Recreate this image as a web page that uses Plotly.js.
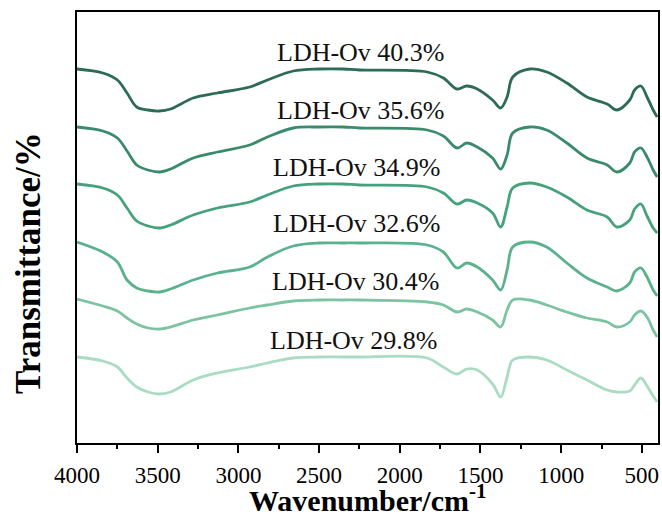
<!DOCTYPE html>
<html>
<head>
<meta charset="utf-8">
<script src="https://cdn.plot.ly/plotly-3.0.1.min.js"></script>
<style>
html,body{margin:0;padding:0;background:#fff;}
#chart{width:662px;height:516px;}
</style>
</head>
<body>
<div id="chart"></div>
<script>
// Wavenumber grid (cm-1)
var wavenumber = [4000, 3840, 3750, 3690, 3630, 3560, 3490, 3420, 3280, 3130, 2930, 2820, 2660, 2500, 2350, 2250, 1830, 1730, 1645, 1585, 1520, 1425, 1375, 1335, 1300, 1195, 1090, 965, 840, 715, 655, 575, 545, 506, 468, 430, 405];

// Transmittance (arbitrary stacked units)
var ov403 = [374,370,363,350,336,333,332,334,345,350,356,363,372,374,374,373,371,365,354,357,354,343,335,346,366,374,371,360,346,339,333,343,353,357,346,333,326];
var ov356 = [316,312,305,292,278,273,271,274,285,291,298,306,315,316,316,315,313,307,295,300,296,285,274,288,310,316,313,300,285,278,271,280,291,295,286,273,266];
var ov349 = [259,255,248,235,222,217,215,218,228,235,241,248,257,259,259,258,256,250,239,243,240,230,216,236,255,260,256,246,233,226,216,223,234,239,227,215,210];
var ov326 = [201,191,181,163,155,152,151,154,163,170,176,186,197,200,200,200,198,191,175,180,176,163,153,173,196,201,196,180,165,156,152,160,171,175,166,153,147];
var ov304 = [144,137,132,125,119,115,114,116,123,128,135,138,142,143,143,143,141,138,131,134,131,123,116,133,143,143,138,131,125,121,116,121,128,132,126,113,106];
var ov298 = [86,82,76,65,56,51,49,51,63,70,76,80,85,86,86,86,85,76,69,74,73,59,46,66,83,86,83,73,63,53,51,52,58,65,57,47,41];

var seriesNames = ["LDH-Ov 40.3%", "LDH-Ov 35.6%", "LDH-Ov 34.9%", "LDH-Ov 32.6%", "LDH-Ov 30.4%", "LDH-Ov 29.8%"];
var seriesValues = [ov403, ov356, ov349, ov326, ov304, ov298];
var colors = ["#2c6b54", "#3a8b6b", "#45a27b", "#5ab28c", "#7cc4a1", "#a9dcc1"];

var xTickVals = [4000, 3500, 3000, 2500, 2000, 1500, 1000, 500];
var xTickText = ["4000", "3500", "3000", "2500", "2000", "1500", "1000", "500"];

// label positions (wavenumber, transmittance units)
var labelX = [2240, 2240, 2265, 2265, 2271, 2284];
var labelY = [391, 333, 276, 220, 162, 103];

var SERIF = "Liberation Serif, Times New Roman, serif";

var traces = seriesValues.map(function (vals, i) {
  return {
    x: wavenumber,
    y: vals,
    type: 'scatter',
    mode: 'lines',
    name: seriesNames[i],
    line: {color: colors[i], width: 2.8, shape: 'spline', smoothing: 1},
    hoverinfo: 'skip'
  };
});

var annotations = seriesNames.map(function (n, i) {
  return {
    x: labelX[i], y: labelY[i], xref: 'x', yref: 'y',
    text: n, showarrow: false, xanchor: 'center', yanchor: 'middle',
    font: {family: SERIF, size: 26, color: '#111'}
  };
});

var plotH = 516 - 12 - 73, plotW = 662 - 77 - 4;
annotations.push({
  x: (28 - 77) / plotW, y: (516 - 73 - 263) / plotH, xref: 'paper', yref: 'paper',
  text: 'Transmittance/%',
  showarrow: false, textangle: -90, xanchor: 'center', yanchor: 'middle',
  font: {family: SERIF, size: 35, color: '#000', weight: 'bold'}
});
annotations.push({
  x: (367 - 77) / plotW, y: (516 - 73 - 498) / plotH, xref: 'paper', yref: 'paper',
  text: 'Wavenumber/cm<sup>-1</sup>',
  showarrow: false, xanchor: 'center', yanchor: 'middle',
  font: {family: SERIF, size: 30, color: '#000', weight: 'bold'}
});

var layout = {
  width: 662, height: 516,
  margin: {l: 77, r: 4, t: 12, b: 73},
  paper_bgcolor: '#ffffff',
  plot_bgcolor: '#ffffff',
  showlegend: false,
  xaxis: {
    range: [4000, 400],
    tickvals: xTickVals, ticktext: xTickText,
    ticks: 'outside', ticklen: 8, tickwidth: 2, tickcolor: '#000',
    ticklabelstandoff: 2,
    minor: {dtick: 250, tick0: 0, ticks: 'outside', ticklen: 4, tickwidth: 2, tickcolor: '#000'},
    showline: true, linewidth: 2, linecolor: '#000', mirror: true,
    showgrid: false, zeroline: false,
    tickfont: {family: SERIF, size: 23, color: '#000'}
  },
  yaxis: {
    range: [0, 431],
    showticklabels: false, ticks: '',
    showline: true, linewidth: 2, linecolor: '#000', mirror: true,
    showgrid: false, zeroline: false
  },
  annotations: annotations
};

Plotly.newPlot('chart', traces, layout, {staticPlot: true, displayModeBar: false});
</script>
</body>
</html>
